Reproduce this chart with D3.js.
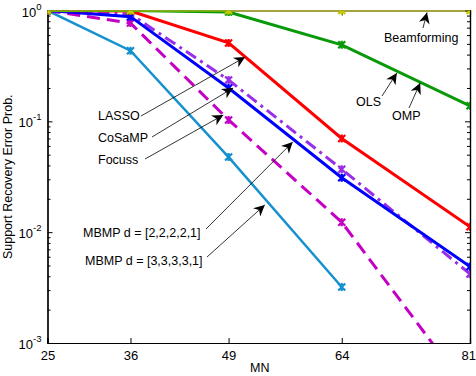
<!DOCTYPE html>
<html>
<head>
<meta charset="utf-8">
<script src="https://cdn.jsdelivr.net/npm/d3@7"></script>
<style>
  body { margin: 0; background: #fff; }
  svg { font-family: "Liberation Sans", Arial, sans-serif; }
  .ann { font-size: 12.5px; fill: #000; }
  .tick text { font-size: 13px; }
</style>
</head>
<body>
<div id="chart"></div>
<script>
var w = 476,
    h = 376,
    margin = {top: 10.5, right: 6, bottom: 33, left: 47.5};

// x values (MN)
var mn = [25, 36, 49, 64, 81];

// error probabilities per method
var beamforming = [1, 1, 1, 1, 1];
var omp = [1, 1, 0.97, 0.49, 0.138];
var lasso = [1, 0.99, 0.51, 0.070, 0.0112];
var mbmp2 = [1, 0.88, 0.20, 0.031, 0.0049];
var cosamp = [1, 0.93, 0.236, 0.037, 0.0042];
var focuss = [1, 0.77, 0.103, 0.0123, 0.00035];
var mbmp3 = [1, 0.434, 0.0476, 0.0032];

var yTicks = [1e-3, 1e-2, 1e-1, 1];
var yTickExp = ["-3", "-2", "-1", "0"];

var series = [
  {values: mbmp3, color: "#1691cf", width: 2.5, dash: null},
  {values: focuss, color: "#c400c4", width: 3, dash: "13,7"},
  {values: cosamp, color: "#9a2ee8", width: 3, dash: "12,5,3,5"},
  {values: mbmp2, color: "#0000ff", width: 3, dash: null},
  {values: lasso, color: "#ff0000", width: 3, dash: null},
  {values: omp, color: "#089a08", width: 3, dash: null},
  {values: beamforming, color: "#c8c800", width: 2.2, dash: null}
];

// labels with the point their arrow touches (MN, prob)
var notes = [
  {text: "Beamforming", x: 384, y: 42, tail: [423, 28], tip: [75.3, 0.96]},
  {text: "OLS", x: 356, y: 106, tail: [382, 96], tip: [71.3, 0.273]},
  {text: "OMP", x: 392, y: 120, tail: [409, 108], tip: [74.4, 0.222]},
  {text: "LASSO", x: 98, y: 120, tail: [141, 116], tip: [51.2, 0.38]},
  {text: "CoSaMP", x: 98, y: 142, tail: [152, 137], tip: [49.6, 0.20]},
  {text: "Focuss", x: 98, y: 164, tail: [145, 159], tip: [48.3, 0.114]},
  {text: "MBMP d = [2,2,2,2,1]", x: 83, y: 237, tail: [206, 229], tip: [57.5, 0.065]},
  {text: "MBMP d = [3,3,3,3,1]", x: 85, y: 265, tail: [207, 257], tip: [53.8, 0.0176]}
];

var iw = w - margin.left - margin.right,
    ih = h - margin.top - margin.bottom;

var x = d3.scaleLinear().domain([25, 81]).range([0, iw]);
var y = d3.scaleLog().domain([1e-3, 1]).range([ih, 0]);

var svg = d3.select("#chart").append("svg")
    .attr("width", w)
    .attr("height", h);

svg.append("defs").append("clipPath")
    .attr("id", "clip")
  .append("rect")
    .attr("width", iw)
    .attr("height", ih);

svg.select("defs").append("marker")
    .attr("id", "head")
    .attr("viewBox", "0 0 10 10")
    .attr("refX", 10)
    .attr("refY", 5)
    .attr("markerUnits", "userSpaceOnUse")
    .attr("markerWidth", 13)
    .attr("markerHeight", 11)
    .attr("orient", "auto")
  .append("path")
    .attr("d", "M0,0L10,5L0,10L3,5Z")
    .attr("fill", "#000");

var g = svg.append("g")
    .attr("transform", "translate(" + margin.left + "," + margin.top + ")");

// minor log ticks
var minor = [];
for (var e = -3; e < 0; e++) {
  for (var k = 2; k < 10; k++) minor.push(k * Math.pow(10, e));
}

var yAxis = d3.axisLeft(y).tickValues(yTicks).tickSize(-5).tickFormat("");
var yMinor = d3.axisLeft(y).tickValues(minor).tickSize(-3).tickFormat("");
var yRight = d3.axisRight(y).tickValues(yTicks).tickSize(-5).tickFormat("");
var yRightMinor = d3.axisRight(y).tickValues(minor).tickSize(-3).tickFormat("");
var xAxis = d3.axisBottom(x).tickValues(mn).tickSize(-5).tickPadding(8).tickFormat(d3.format("d"));
var xTop = d3.axisTop(x).tickValues(mn).tickSize(-5).tickFormat("");

g.append("g").attr("class", "axis").call(yAxis);
g.append("g").attr("class", "axis").call(yMinor);
g.append("g").attr("class", "axis").attr("transform", "translate(" + iw + ",0)").call(yRight);
g.append("g").attr("class", "axis").attr("transform", "translate(" + iw + ",0)").call(yRightMinor);
var xg = g.append("g").attr("class", "axis").attr("transform", "translate(0," + ih + ")").call(xAxis);
g.append("g").attr("class", "axis").call(xTop);

g.selectAll(".axis path").attr("stroke", "#000").attr("stroke-width", 1.2);
g.selectAll(".axis line").attr("stroke", "#000");
g.selectAll(".axis text")
    .attr("fill", "#000")
    .style("font-family", "Liberation Sans, Arial, sans-serif")
    .style("font-size", "13px");

// keep the last label inside the window
xg.selectAll(".tick text")
    .filter(function(d) { return d === 81; })
    .attr("text-anchor", "end")
    .attr("dx", 5.5);

// y tick labels with exponents
var ylab = g.append("g").selectAll("text")
    .data(yTicks)
  .enter().append("text")
    .attr("x", -6)
    .attr("y", function(d) { return y(d) + 6; })
    .attr("text-anchor", "end")
    .attr("fill", "#000")
    .style("font-size", "13px");
ylab.append("tspan").text("10");
ylab.append("tspan")
    .attr("dy", -7)
    .style("font-size", "9.5px")
    .text(function(d, i) { return yTickExp[i]; });

// series lines
var line = d3.line()
    .x(function(d, i) { return x(mn[i]); })
    .y(function(d) { return y(d); });

var plot = g.append("g").attr("clip-path", "url(#clip)");

var sg = plot.selectAll("g.series")
    .data(series)
  .enter().append("g")
    .attr("class", "series");

sg.append("path")
    .attr("d", function(d) { return line(d.values); })
    .attr("fill", "none")
    .attr("stroke", function(d) { return d.color; })
    .attr("stroke-width", function(d) { return d.width; })
    .attr("stroke-dasharray", function(d) { return d.dash; });

var cross = "M-3.5,-3.5L3.5,3.5M-3.5,3.5L3.5,-3.5M0,-4L0,4";
sg.each(function(s) {
  d3.select(this).selectAll("path.mk")
      .data(s.values.map(function(v, i) { return [mn[i], v]; })
        .filter(function(p) { return p[1] >= 1e-3; }))
    .enter().append("path")
      .attr("class", "mk")
      .attr("transform", function(p) { return "translate(" + x(p[0]) + "," + y(p[1]) + ")"; })
      .attr("d", cross)
      .attr("stroke", s.color)
      .attr("stroke-width", 2.2)
      .attr("fill", "none");
});

// annotations
var an = svg.append("g").selectAll("g")
    .data(notes)
  .enter().append("g");

an.append("line")
    .attr("x1", function(d) { return d.tail[0]; })
    .attr("y1", function(d) { return d.tail[1]; })
    .attr("x2", function(d) { return margin.left + x(d.tip[0]); })
    .attr("y2", function(d) { return margin.top + y(d.tip[1]); })
    .attr("stroke", "#000")
    .attr("stroke-width", 0.8)
    .attr("marker-end", "url(#head)");

an.append("text")
    .attr("class", "ann")
    .attr("x", function(d) { return d.x; })
    .attr("y", function(d) { return d.y; })
    .text(function(d) { return d.text; });

// axis titles
svg.append("text")
    .attr("x", margin.left + iw / 2 + 1)
    .attr("y", 372)
    .attr("text-anchor", "middle")
    .style("font-size", "12.5px")
    .text("MN");

svg.append("text")
    .attr("transform", "translate(12," + (margin.top + ih / 2) + ")rotate(-90)")
    .attr("text-anchor", "middle")
    .style("font-size", "12.5px")
    .text("Support Recovery Error Prob.");
</script>
</body>
</html>
